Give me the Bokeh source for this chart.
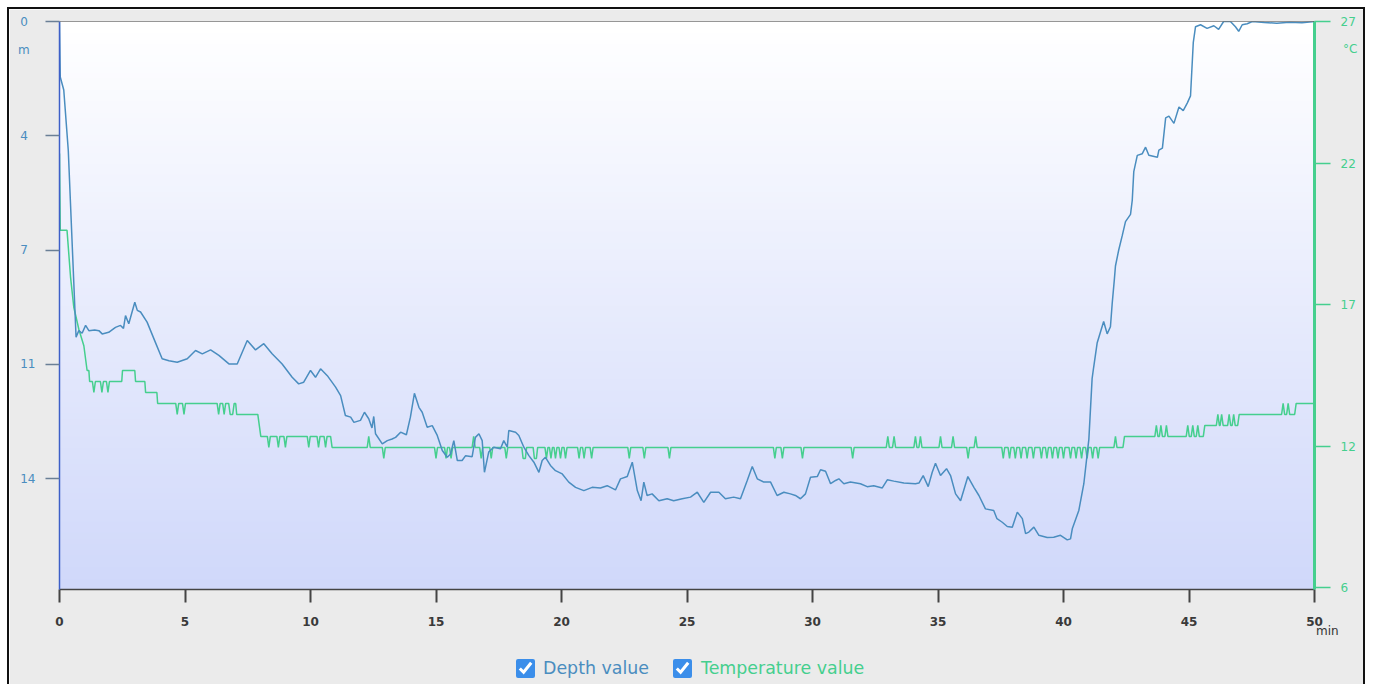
from bokeh.plotting import figure
from bokeh.models import Range1d, LinearAxis, FixedTicker, Span, Div
from bokeh.embed import file_html
from bokeh.resources import INLINE

# ---- dive profile: depth (m) over time (min) ----
depth_time = [
    0.00, 0.03, 0.10, 0.17, 0.35, 0.66, 0.77, 0.90, 1.04, 1.17, 1.40, 1.57, 1.70, 1.96,
    2.23, 2.43, 2.55, 2.63, 2.76, 3.00, 3.10, 3.23, 3.49, 3.82, 4.09, 4.36, 4.69, 5.09,
    5.42, 5.69, 6.02, 6.35, 6.75, 7.08, 7.48, 7.81, 8.14, 8.47, 8.87, 9.27, 9.53, 9.73,
    10.00, 10.20, 10.40, 10.67, 11.00, 11.20, 11.39, 11.60, 11.73, 11.99, 12.15, 12.32,
    12.45, 12.52, 12.59, 12.86, 13.06, 13.25, 13.39, 13.59, 13.82, 13.98, 14.14, 14.32,
    14.45, 14.65, 14.85, 15.05, 15.25, 15.45, 15.58, 15.71, 15.85, 16.04, 16.18, 16.44,
    16.57, 16.71, 16.84, 16.93, 17.10, 17.30, 17.57, 17.70, 17.84, 17.90, 18.17, 18.30,
    18.50, 18.70, 18.90, 19.10, 19.23, 19.36, 19.56, 19.76, 20.03, 20.29, 20.56, 20.89,
    21.22, 21.55, 21.82, 22.15, 22.35, 22.62, 22.82, 23.02, 23.17, 23.28, 23.41, 23.61,
    23.88, 24.21, 24.47, 24.81, 25.14, 25.41, 25.67, 25.94, 26.27, 26.53, 26.86, 27.13,
    27.40, 27.60, 27.80, 28.06, 28.33, 28.59, 28.86, 29.12, 29.32, 29.52, 29.72, 29.92,
    30.19, 30.32, 30.52, 30.72, 30.92, 31.05, 31.25, 31.51, 31.91, 32.18, 32.44, 32.78,
    32.98, 33.24, 33.64, 34.10, 34.24, 34.41, 34.61, 34.77, 34.90, 35.10, 35.34, 35.50,
    35.70, 35.90, 36.19, 36.43, 36.63, 36.89, 37.22, 37.35, 37.56, 37.76, 37.96, 38.16,
    38.36, 38.49, 38.62, 38.82, 39.02, 39.35, 39.61, 39.88, 40.15, 40.28, 40.35, 40.61,
    40.81, 41.01, 41.14, 41.20, 41.34, 41.47, 41.60, 41.74, 41.87, 41.94, 42.03, 42.07,
    42.20, 42.34, 42.47, 42.67, 42.74, 42.80, 42.94, 43.14, 43.27, 43.40, 43.74, 43.80,
    43.94, 44.07, 44.20, 44.40, 44.60, 44.77, 44.93, 45.06, 45.17, 45.26, 45.46, 45.72,
    45.99, 46.18, 46.38, 46.65, 46.85, 46.98, 47.12, 47.32, 47.52, 48.00, 48.50, 49.00,
    49.50, 50.00,
]
depth_m = [
    0.00, 1.70, 1.90, 2.10, 3.95, 9.67, 9.47, 9.55, 9.31, 9.47, 9.45, 9.47, 9.57, 9.52,
    9.37, 9.31, 9.40, 9.01, 9.26, 8.60, 8.85, 8.90, 9.21, 9.83, 10.33, 10.39, 10.44, 10.33,
    10.08, 10.18, 10.06, 10.23, 10.49, 10.49, 9.77, 10.06, 9.87, 10.18, 10.49, 10.90, 11.10, 11.05,
    10.69, 10.90, 10.64, 10.85, 11.20, 11.46, 12.07, 12.12, 12.28, 12.22, 11.97, 12.17,
    12.45, 12.10, 12.63, 12.94, 12.84, 12.79, 12.74, 12.58, 12.66, 12.12, 11.39, 11.82,
    11.97, 12.43, 12.38, 12.68, 13.14, 13.35, 13.25, 12.84, 13.45, 13.45, 13.30, 13.33,
    12.74, 12.63, 12.84, 13.81, 13.19, 13.04, 13.09, 12.84, 13.04, 12.53, 12.58, 12.68,
    13.04, 13.30, 13.50, 13.81, 13.45, 13.35, 13.60, 13.76, 13.86, 14.11, 14.27, 14.37,
    14.27, 14.29, 14.22, 14.35, 14.01, 13.94, 13.50, 14.37, 14.68, 14.11, 14.52, 14.47,
    14.68, 14.62, 14.68, 14.62, 14.57, 14.42, 14.73, 14.42, 14.42, 14.62, 14.57, 14.62,
    14.06, 13.63, 14.01, 14.11, 14.11, 14.52, 14.42, 14.47, 14.52, 14.62, 14.47, 13.96,
    13.94, 13.73, 13.78, 14.16, 14.06, 14.01, 14.16, 14.11, 14.16, 14.25, 14.22, 14.29,
    14.04, 14.08, 14.14, 14.16, 14.14, 13.91, 14.25, 13.81, 13.53, 13.91, 13.70, 13.91,
    14.47, 14.68, 13.94, 14.27, 14.52, 14.93, 14.98, 15.23, 15.34, 15.47, 15.49, 15.03,
    15.23, 15.69, 15.64, 15.49, 15.74, 15.81, 15.80, 15.74, 15.88, 15.85, 15.54, 14.98,
    14.16, 12.80, 10.94, 10.60, 9.85, 9.52, 9.19, 9.57, 9.35, 8.64, 7.87, 7.49,
    7.00, 6.56, 6.13, 5.91, 5.47, 4.60, 4.10, 4.05, 3.85, 4.10, 4.16, 3.94,
    3.88, 2.95, 2.90, 3.12, 2.62, 2.73, 2.50, 2.28, 0.65, 0.16, 0.10, 0.21,
    0.13, 0.24, 0.00, 0.00, 0.16, 0.30, 0.10, 0.07, 0.00, 0.03, 0.05, 0.02,
    0.04, 0.00,
]

# ---- water temperature (degC) over time (min) ----
temp_time = [
    0.00, 0.03, 0.30, 0.44, 0.57, 0.77, 0.97, 1.10, 1.17, 1.20,
    1.31, 1.37, 1.43, 1.63, 1.69, 1.75, 1.87, 1.93, 1.99, 2.48, 2.51, 3.00, 3.03,
    3.40, 3.43, 3.88, 3.91, 4.63, 4.69, 4.75, 4.90, 4.96, 5.02,
    6.28, 6.34, 6.40, 6.50, 6.56, 6.62, 6.74, 6.80, 6.90, 6.96, 7.02, 7.06, 7.90, 8.02,
    8.28, 8.34, 8.40, 8.66, 8.72, 8.78, 8.94, 9.00, 9.06, 9.87, 9.93, 9.99,
    10.26, 10.32, 10.38, 10.54, 10.60, 10.66, 10.80, 10.86,
    12.26, 12.32, 12.38, 12.86, 12.92, 12.98, 14.94, 15.00, 15.06,
    15.34, 15.40, 15.46, 15.54, 15.60, 15.66, 16.44, 16.50, 16.56,
    16.74, 16.80, 16.86, 17.14, 17.20, 17.26, 17.74, 17.80, 17.86,
    18.42, 18.47, 18.56, 18.61, 18.87, 18.92, 19.00, 19.05,
    19.34, 19.40, 19.46, 19.52, 19.58, 19.64, 19.70, 19.76, 19.82,
    19.90, 19.96, 20.02, 20.10, 20.16, 20.22, 20.64, 20.70, 20.76,
    20.84, 20.90, 20.96, 21.14, 21.20, 21.26, 22.64, 22.70, 22.76,
    23.24, 23.30, 23.36, 24.24, 24.30, 24.36, 28.44, 28.50, 28.56,
    28.74, 28.80, 28.86, 29.54, 29.60, 29.66, 31.54, 31.60, 31.66,
    32.94, 33.00, 33.06, 33.19, 33.25, 33.31, 34.04, 34.10, 34.16,
    34.24, 34.30, 34.36, 35.04, 35.10, 35.16, 35.54, 35.60, 35.66,
    36.14, 36.20, 36.26, 36.44, 36.50, 36.56,
    37.54, 37.60, 37.66, 37.79, 37.85, 37.91, 38.02, 38.08, 38.14,
    38.25, 38.31, 38.37, 38.49, 38.55, 38.61, 38.74, 38.80, 38.86,
    39.06, 39.12, 39.18, 39.28, 39.34, 39.40, 39.50, 39.56, 39.62,
    39.72, 39.78, 39.84, 39.94, 40.00, 40.06,
    40.22, 40.28, 40.34, 40.44, 40.50, 40.56, 40.66, 40.72, 40.78,
    40.88, 40.94, 41.00, 41.10, 41.16, 41.22, 41.32, 41.38, 41.44,
    42.01, 42.07, 42.13, 42.37, 42.43,
    43.64, 43.70, 43.76, 43.82, 43.88, 43.94, 44.04, 44.10, 44.16,
    44.89, 44.95, 45.01, 45.09, 45.15, 45.21, 45.29, 45.35, 45.41, 45.57, 45.63,
    46.09, 46.15, 46.21, 46.24, 46.30, 46.36, 46.54, 46.60, 46.66,
    46.72, 46.78, 46.84, 46.94, 47.00,
    48.69, 48.75, 48.81, 48.89, 48.95, 49.01, 49.21, 49.27, 50.00,
]
temp_c = [
    22.2, 19.4, 19.4, 17.7, 16.6, 15.8, 15.2, 14.3, 14.3, 13.9,
    13.9, 13.5, 13.9, 13.9, 13.5, 13.9, 13.9, 13.5, 13.9, 13.9, 14.3, 14.3, 13.9,
    13.9, 13.5, 13.5, 13.1, 13.1, 12.7, 13.1, 13.1, 12.7, 13.1,
    13.1, 12.7, 13.1, 13.1, 12.7, 13.1, 13.1, 12.7, 12.7, 13.1, 13.1, 12.7, 12.7, 11.9,
    11.9, 11.5, 11.9, 11.9, 11.5, 11.9, 11.9, 11.5, 11.9, 11.9, 11.5, 11.9,
    11.9, 11.5, 11.9, 11.9, 11.5, 11.9, 11.9, 11.5,
    11.5, 11.9, 11.5, 11.5, 11.1, 11.5, 11.5, 11.1, 11.5,
    11.5, 11.1, 11.5, 11.5, 11.1, 11.5, 11.5, 11.9, 11.5,
    11.5, 11.1, 11.5, 11.5, 11.1, 11.5, 11.5, 11.1, 11.5,
    11.5, 11.1, 11.1, 11.5, 11.5, 11.1, 11.1, 11.5,
    11.5, 11.1, 11.5, 11.5, 11.1, 11.5, 11.5, 11.1, 11.5,
    11.5, 11.1, 11.5, 11.5, 11.1, 11.5, 11.5, 11.1, 11.5,
    11.5, 11.1, 11.5, 11.5, 11.1, 11.5, 11.5, 11.1, 11.5,
    11.5, 11.1, 11.5, 11.5, 11.1, 11.5, 11.5, 11.1, 11.5,
    11.5, 11.1, 11.5, 11.5, 11.1, 11.5, 11.5, 11.1, 11.5,
    11.5, 11.9, 11.5, 11.5, 11.9, 11.5, 11.5, 11.9, 11.5,
    11.5, 11.9, 11.5, 11.5, 11.9, 11.5, 11.5, 11.9, 11.5,
    11.5, 11.1, 11.5, 11.5, 11.9, 11.5,
    11.5, 11.1, 11.5, 11.5, 11.1, 11.5, 11.5, 11.1, 11.5,
    11.5, 11.1, 11.5, 11.5, 11.1, 11.5, 11.5, 11.1, 11.5,
    11.5, 11.1, 11.5, 11.5, 11.1, 11.5, 11.5, 11.1, 11.5,
    11.5, 11.1, 11.5, 11.5, 11.1, 11.5,
    11.5, 11.1, 11.5, 11.5, 11.1, 11.5, 11.5, 11.1, 11.5,
    11.5, 11.1, 11.5, 11.5, 11.1, 11.5, 11.5, 11.1, 11.5,
    11.5, 11.9, 11.5, 11.5, 11.9,
    11.9, 12.3, 11.9, 11.9, 12.3, 11.9, 11.9, 12.3, 11.9,
    11.9, 12.3, 11.9, 11.9, 12.3, 11.9, 11.9, 12.3, 11.9, 11.9, 12.3,
    12.3, 12.7, 12.3, 12.3, 12.7, 12.3, 12.3, 12.7, 12.3,
    12.3, 12.7, 12.3, 12.3, 12.7,
    12.7, 13.1, 12.7, 12.7, 13.1, 12.7, 12.7, 13.1, 13.1,
]

# ---- axes ----
time_ticks = [0, 5, 10, 15, 20, 25, 30, 35, 40, 45, 50]
depth_ticks = [0, 3.5, 7, 10.5, 14]
depth_tick_labels = ["0", "4", "7", "11", "14"]
temp_ticks = [27, 21.85, 16.7, 11.55, 6.4]
temp_tick_labels = ["27", "22", "17", "12", "6"]
series_names = ["Depth value", "Temperature value"]

DEPTH_COLOR = "#4a8dbf"
TEMP_COLOR = "#45cf8e"
FONT = "DejaVu Sans"

p = figure(
    width=1358, height=677,
    x_range=Range1d(0, 50), y_range=Range1d(17.4, 0),
    output_backend="svg", toolbar_location=None,
    min_border_left=50, min_border_right=53, min_border_top=12, min_border_bottom=97,
    border_fill_color="#ebebeb", background_fill_color="#ffffff",
    outline_line_color=None,
)
p.styles = {
    "position": "absolute", "left": "7px", "top": "7px",
    "border-top": "2px solid #111", "border-left": "2px solid #111",
    "border-right": "2px solid #111",
}
p.grid.visible = False
p.extra_y_ranges = {"temp": Range1d(6.33, 27)}

# background: vertical white-to-lavender gradient drawn as stacked bands
n_bands = 100
top_rgb, bot_rgb = (255, 255, 255), (208, 216, 250)
for i in range(n_bands):
    f = i / (n_bands - 1)
    c = tuple(int(round(a + (b - a) * f)) for a, b in zip(top_rgb, bot_rgb))
    p.quad(left=0, right=50, top=17.4 * i / n_bands, bottom=17.4,
           fill_color="#%02x%02x%02x" % c, line_color=None)

# top edge of the plot area
p.add_layout(Span(location=0, dimension="width", line_color="#333333", line_width=1.2))

# series
p.line(temp_time, temp_c, y_range_name="temp", line_color=TEMP_COLOR, line_width=1.5)
p.line(depth_time, depth_m, line_color=DEPTH_COLOR, line_width=1.5)

# x axis
xa = p.xaxis[0]
xa.ticker = FixedTicker(ticks=time_ticks)
xa.minor_tick_line_color = None
xa.major_tick_out = 13
xa.major_tick_in = 0
xa.major_tick_line_color = "#444444"
xa.major_tick_line_width = 2
xa.axis_line_color = "#444444"
xa.axis_line_width = 1.5
xa.major_label_standoff = 14
xa.major_label_text_font = FONT
xa.major_label_text_font_size = "12px"
xa.major_label_text_font_style = "bold"
xa.major_label_text_color = "#3a3a3a"

# left depth axis; single digits padded with a figure space so all labels
# start at the same x
ya = p.yaxis[0]
ya.ticker = FixedTicker(ticks=depth_ticks)
ya.major_label_overrides = {
    t: (lab if len(lab) > 1 else lab + "\u2007")
    for t, lab in zip(depth_ticks, depth_tick_labels)
}
ya.minor_tick_line_color = None
ya.major_tick_out = 14
ya.major_tick_in = 0
ya.major_tick_line_color = "#6a7f96"
ya.major_tick_line_width = 1.5
ya.axis_line_color = "#3d5fc8"
ya.axis_line_width = 1.5
ya.major_label_standoff = 10
ya.major_label_text_font = FONT
ya.major_label_text_font_size = "12px"
ya.major_label_text_color = DEPTH_COLOR

# right temperature axis
ta = LinearAxis(y_range_name="temp", ticker=FixedTicker(ticks=temp_ticks))
ta.major_label_overrides = dict(zip(temp_ticks, temp_tick_labels))
ta.minor_tick_line_color = None
ta.major_tick_out = 16
ta.major_tick_in = 0
ta.major_tick_line_color = TEMP_COLOR
ta.major_tick_line_width = 1.5
ta.axis_line_color = TEMP_COLOR
ta.axis_line_width = 3
ta.major_label_standoff = 10
ta.major_label_text_font = FONT
ta.major_label_text_font_size = "12px"
ta.major_label_text_color = TEMP_COLOR
p.add_layout(ta, "right")


def overlay(html, left, top, width, height):
    """Absolutely positioned HTML text laid over the chart canvas."""
    return Div(text=html, width=width, height=height, margin=0,
               styles={"position": "absolute", "left": f"{left}px", "top": f"{top}px",
                       "z-index": "5"})


def unit(txt, color):
    return (f"<div style=\"font-family:'{FONT}';font-size:12px;color:{color};"
            f"line-height:16px;white-space:nowrap\">{txt}</div>")


# unit captions next to the axes
m_div = overlay(unit("m", DEPTH_COLOR), 18, 42, 25, 16)
c_div = overlay(unit("°C", TEMP_COLOR), 1343, 41, 28, 16)
min_div = overlay(unit("min", "#333333"), 1316, 623, 40, 16)

# legend with check boxes
box_css = "width:19px;height:19px;margin:0;accent-color:#3b8eea;flex:none"
legend_html = (
    f"<div style=\"display:flex;align-items:center;font-family:'{FONT}';font-size:17.4px;"
    f"white-space:nowrap;height:26px\">"
    f"<input type='checkbox' checked style='{box_css}'>"
    f"<span style='color:{DEPTH_COLOR};margin-left:8px'>{series_names[0]}</span>"
    f"<input type='checkbox' checked style='{box_css};margin-left:24px'>"
    f"<span style='color:{TEMP_COLOR};margin-left:9px'>{series_names[1]}</span>"
    f"</div>"
)
legend_div = overlay(legend_html, 516, 655, 390, 26)

open("out.html", "w").write(file_html([p, m_div, c_div, min_div, legend_div], INLINE))
